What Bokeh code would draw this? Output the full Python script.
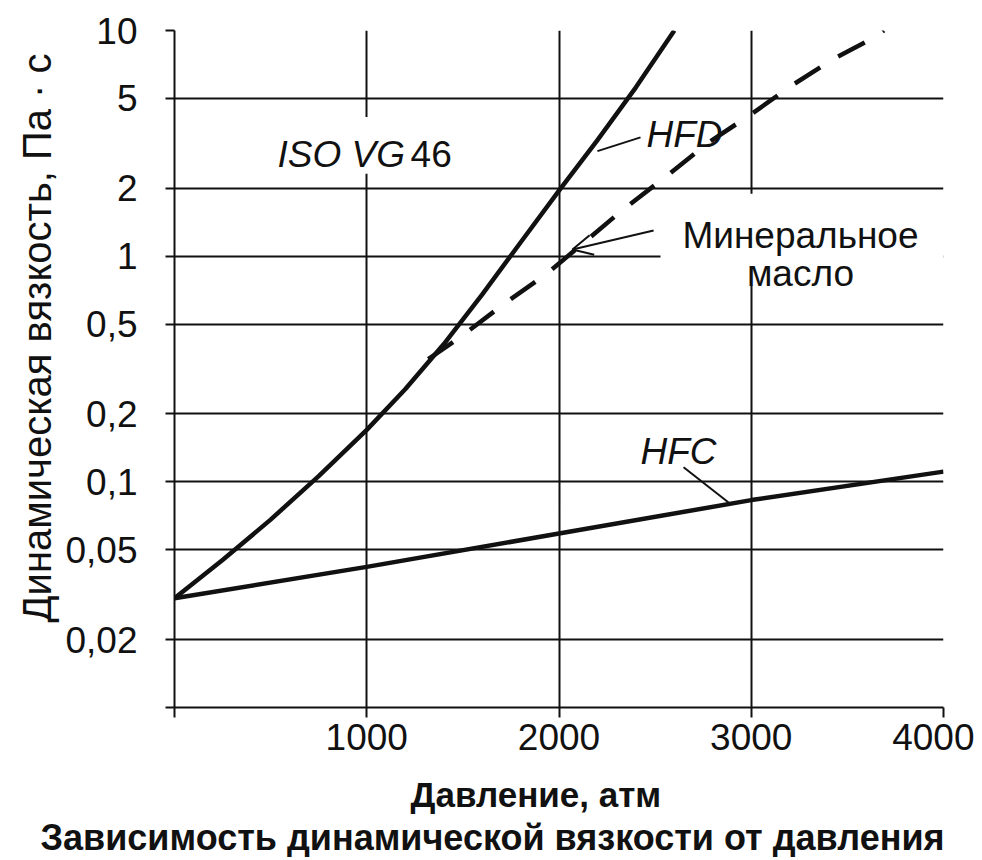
from bokeh.plotting import figure
from bokeh.models import (FixedTicker, Label, Arrow, OpenHead, BoxAnnotation, Title)
from bokeh.embed import file_html
from bokeh.resources import INLINE

# ---- data ----
pressure_hfd = [0, 250, 500, 750, 1000, 1200, 1400, 1600, 1800, 2000, 2200, 2400, 2600]
visc_hfd = [0.0305, 0.045, 0.068, 0.106, 0.17, 0.257, 0.407, 0.676, 1.15, 1.95, 3.27, 5.6, 10.0]

pressure_mineral = [1320, 1490, 1720, 1940, 2330, 2570, 2780, 2990, 3210, 3430, 3640, 3690]
visc_mineral = [0.35, 0.44, 0.62, 0.84, 1.6, 2.3, 3.2, 4.2, 5.7, 7.5, 9.3, 10.0]

pressure_hfc = [0, 1000, 2000, 3000, 4000]
visc_hfc = [0.0305, 0.042, 0.059, 0.083, 0.111]

x_ticks = [0, 1000, 2000, 3000, 4000]
x_tick_labels = ["", "1000", "2000", "3000", "4000"]
y_ticks = [0.01, 0.02, 0.05, 0.1, 0.2, 0.5, 1, 2, 5, 10]
y_tick_labels = ["", "0,02", "0,05", "0,1", "0,2", "0,5", "1", "2", "5", "10"]

title_text = "Зависимость динамической вязкости от давления"
x_label = "Давление, атм"
y_label = "Динамическая вязкость, Па · с"

FONT = "Liberation Sans"
INK = "#111111"

p = figure(frame_width=769, frame_height=677, y_axis_type="log",
           x_range=(0, 4000), y_range=(0.01, 10),
           output_backend="svg", toolbar_location=None, title=None,
           min_border_left=174, min_border_right=31,
           min_border_top=30, min_border_bottom=150)
p.outline_line_color = None
p.background_fill_color = "white"

# axes
for ax in (p.xaxis[0], p.yaxis[0]):
    ax.axis_line_color = INK
    ax.axis_line_width = 2
    ax.major_tick_line_color = INK
    ax.major_tick_line_width = 2
    ax.major_tick_in = 0
    ax.minor_tick_line_color = None
    ax.major_label_text_font = FONT
    ax.major_label_text_font_size = "37px"
    ax.major_label_text_color = INK

p.xaxis.ticker = FixedTicker(ticks=x_ticks, minor_ticks=[])
p.xaxis.major_label_overrides = dict(zip(x_ticks, x_tick_labels))
p.xaxis.major_tick_out = 10
p.xaxis.major_label_standoff = 6

p.yaxis.ticker = FixedTicker(ticks=y_ticks, minor_ticks=[])
p.yaxis.major_label_overrides = dict(zip(y_ticks, y_tick_labels))
p.yaxis.major_tick_out = 9
p.yaxis.major_label_standoff = 28

# axis titles and chart title as side titles (for exact placement)
p.add_layout(Title(text=x_label, align="left", offset=236, standoff=40,
                   text_font=FONT, text_font_size="35px", text_font_style="bold",
                   text_color=INK), "below")
p.add_layout(Title(text=title_text, align="left", offset=-134, standoff=-38,
                   text_font=FONT, text_font_size="36px", text_font_style="bold",
                   text_color=INK), "below")
p.add_layout(Title(text=y_label, align="left", offset=85, standoff=8,
                   text_font=FONT, text_font_size="40px", text_font_style="normal",
                   text_color=INK), "left")

# grid
p.xgrid.ticker = FixedTicker(ticks=x_ticks[1:], minor_ticks=[])
p.ygrid.ticker = FixedTicker(ticks=y_ticks, minor_ticks=[])
for g in (p.xgrid[0], p.ygrid[0]):
    g.grid_line_color = INK
    g.grid_line_width = 2
    g.grid_line_alpha = 1

# curves
p.line(pressure_hfd, visc_hfd, line_color=INK, line_width=4.5, line_join="round")
p.line(pressure_mineral, visc_mineral, line_color=INK, line_width=4.5, line_dash="30 21")
p.line(pressure_hfc, visc_hfc, line_color=INK, line_width=4.5)

# white boxes behind annotation texts (interrupting grid lines)
p.add_layout(BoxAnnotation(left=473, right=1514, bottom=2.32, top=4.14,
                           fill_color="white", fill_alpha=1, line_color=None, level="underlay"))
p.add_layout(BoxAnnotation(left=2528, bottom=0.74, top=1.89,
                           fill_color="white", fill_alpha=1, line_color=None, level="underlay"))

def lab(x, y, text, style="normal", align="left"):
    p.add_layout(Label(x=x, y=y, text=text, text_font=FONT, text_font_size="37px",
                       text_font_style=style, text_color=INK, text_align=align,
                       text_baseline="alphabetic"))

lab(536, 2.83, "ISO VG", "italic")
lab(1228, 2.83, "46")
lab(2455, 3.46, "HFD", "italic")
lab(3256, 1.23, "Минеральное", align="center")
lab(3256, 0.84, "масло", align="center")
lab(2424, 0.136, "HFC", "italic")

# leader lines
p.add_layout(Arrow(end=None, x_start=2424, y_start=3.36, x_end=2200, y_end=2.92,
                   line_color=INK, line_width=2))
p.add_layout(Arrow(end=OpenHead(size=20, line_width=2, line_color=INK),
                   x_start=2492, y_start=1.30, x_end=2070, y_end=1.07,
                   line_color=INK, line_width=2))
p.add_layout(Arrow(end=None, x_start=2648, y_start=0.116, x_end=2882, y_end=0.081,
                   line_color=INK, line_width=2))

open("out.html", "w").write(file_html(p, INLINE))
